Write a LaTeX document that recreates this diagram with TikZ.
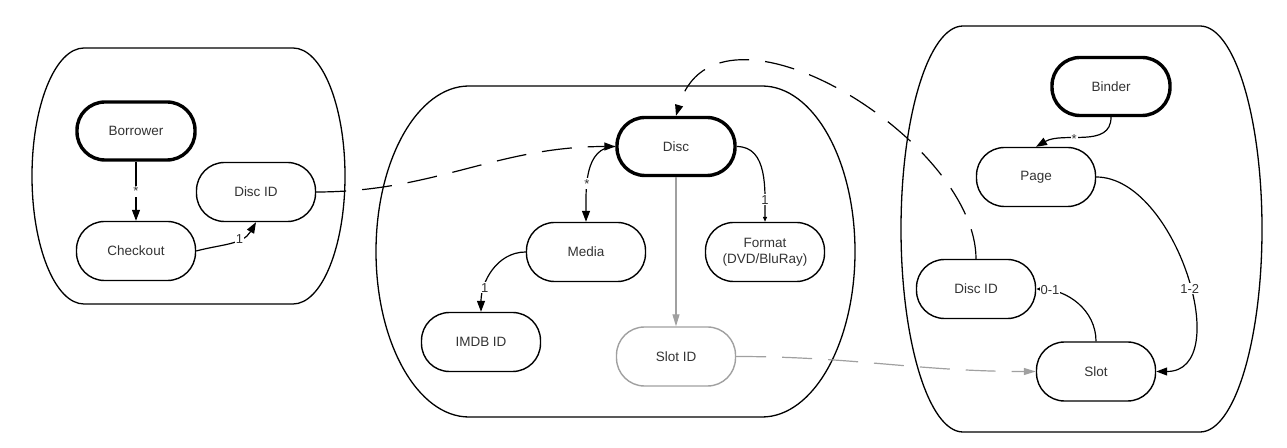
\documentclass[tikz,border=0pt]{standalone}
\usepackage{fontspec}
\setmainfont{Liberation Sans}
\usetikzlibrary{arrows.meta}
\definecolor{txt}{HTML}{333333}
\definecolor{lgray}{HTML}{A0A0A0}
\begin{document}
\begin{tikzpicture}[x=1pt,y=1pt,
  box/.style={draw=black, fill=white, line width=1.4pt, rounded corners=28pt,
    minimum width=119pt, minimum height=59pt, inner sep=0pt, align=center,
    font=\fontsize{13.5}{16}\selectfont, text=txt},
  mainbox/.style={box, line width=3.4pt, minimum width=118pt, minimum height=58pt},
  graybox/.style={box, draw=lgray},
  cont/.style={line width=1.3pt},
  conn/.style={line width=1.2pt},
  arr/.style={conn, -{Triangle[length=11pt,width=8pt]}},
  sarr/.style={conn, -{Triangle[length=5pt,width=4pt]}},
  garr/.style={conn, draw=lgray, -{Triangle[length=12pt,width=7pt]}},
  dsh/.style={dash pattern=on 30pt off 16pt},
  lbl/.style={fill=white, inner sep=1pt, font=\fontsize{13}{15}\selectfont, text=txt}]
\useasboundingbox (0,0) rectangle (1287,447);
% containers
\draw[cont] (84,399) -- (293,399)
  arc[start angle=90,end angle=0,x radius=52,y radius=128]
  arc[start angle=0,end angle=-90,x radius=52,y radius=128] -- (84,143)
  arc[start angle=270,end angle=180,x radius=52,y radius=128]
  arc[start angle=180,end angle=90,x radius=52,y radius=128] -- cycle;
\draw[cont] (469,361) -- (762,361)
  arc[start angle=90,end angle=0,x radius=93,y radius=165.5]
  arc[start angle=0,end angle=-90,x radius=93,y radius=165.5] -- (469,30)
  arc[start angle=270,end angle=180,x radius=93,y radius=165.5]
  arc[start angle=180,end angle=90,x radius=93,y radius=165.5] -- cycle;
\draw[cont] (963,421) -- (1200,421)
  arc[start angle=90,end angle=0,x radius=62,y radius=203]
  arc[start angle=0,end angle=-90,x radius=62,y radius=203] -- (963,15)
  arc[start angle=270,end angle=180,x radius=62,y radius=203]
  arc[start angle=180,end angle=90,x radius=62,y radius=203] -- cycle;
% nodes
\node[mainbox] (borrower) at (136,316) {Borrower};
\node[box] (checkout) at (136,196) {Checkout};
\node[box] (discidA) at (256,255) {Disc ID};
\node[mainbox] (disc) at (676,300.5) {Disc};
\node[box] (media) at (586,195) {Media};
\node[box] (format) at (765,195) {Format\\(DVD/BluRay)};
\node[box] (imdb) at (481,105) {IMDB ID};
\node[graybox] (slotid) at (676,90.5) {Slot ID};
\node[mainbox] (binder) at (1111,360.5) {Binder};
\node[box] (page) at (1036,270) {Page};
\node[box] (discidB) at (976,158) {Disc ID};
\node[box] (slot) at (1096,75.5) {Slot};
% connectors
\draw[arr] (borrower.south) -- node[lbl,pos=0.5] {*} (checkout.north);
\draw[arr] (checkout.east) to[out=15,in=-120] node[lbl,pos=0.65] {1} (discidA.south);
\draw[arr] (disc.west) to[out=180,in=90] node[lbl,pos=0.62] {*} (media.north);
\draw[sarr] (disc.east) to[out=0,in=90] node[lbl,pos=0.78] {1} (format.north);
\draw[arr] (media.west) to[out=180,in=90] node[lbl,pos=0.72] {1} (imdb.north);
\draw[garr] (disc.south) -- (slotid.north);
\draw[garr,dsh] (slotid.east) to[out=0,in=180] (slot.west);
\draw[arr,dsh] (discidA.east) to[out=0,in=180] (disc.west);
\draw[arr,dsh] (discidB.north) .. controls +(0,119) and +(40,136) .. (disc.north);
\draw[arr] (binder.south) to[out=-90,in=30] node[lbl,pos=0.6] {*} (page.north);
\draw[arr] (page.east) to[out=0,in=0] node[lbl,pos=0.55] {1-2} (slot.east);
\draw[sarr] (slot.north) to[out=90,in=0] node[lbl,pos=0.85] {0-1} (discidB.east);
\end{tikzpicture}
\end{document}
